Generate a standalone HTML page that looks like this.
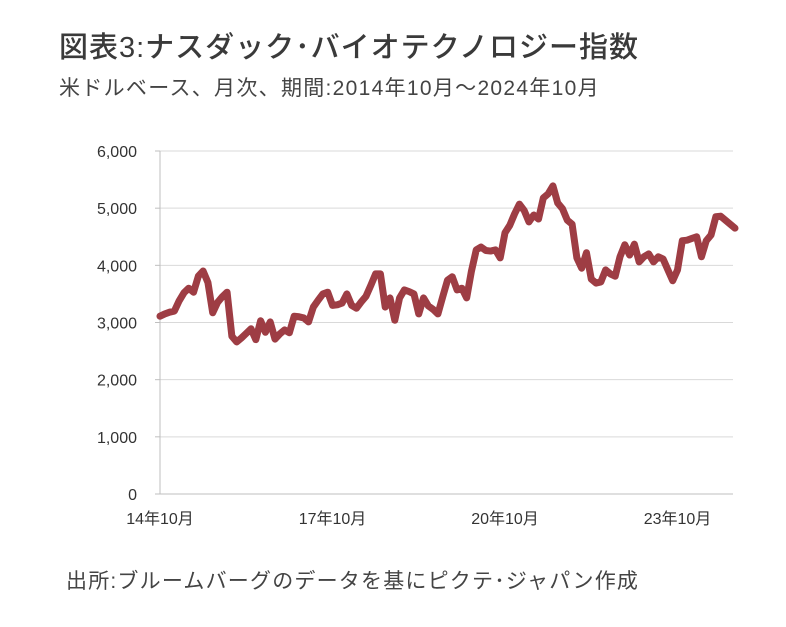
<!DOCTYPE html>
<html><head><meta charset="utf-8"><style>
body{margin:0;background:#fff;width:786px;height:627px;overflow:hidden;font-family:"Liberation Sans","Noto Sans CJK JP",sans-serif;color:#3a3a3a}
.t{position:absolute;left:59px;top:24px;font-size:29px;font-weight:500;letter-spacing:1px;white-space:nowrap}
.s{position:absolute;left:59px;top:72px;font-size:21px;letter-spacing:1.3px;white-space:nowrap;color:#444}
.f{position:absolute;left:66px;top:565px;font-size:21px;letter-spacing:1.2px;white-space:nowrap;color:#444}
svg{position:absolute;left:0;top:0}
</style></head><body>
<div class="t">図表3:ナスダック･バイオテクノロジー指数</div>
<div class="s">米ドルベース、月次、期間:2014年10月～2024年10月</div>
<svg id="c" width="786" height="627"></svg>
<div class="f">出所:ブルームバーグのデータを基にピクテ･ジャパン作成</div>
<script>
const values=[3110,3150,3180,3200,3380,3520,3600,3530,3810,3900,3700,3170,3350,3450,3530,2760,2660,2730,2810,2890,2700,3030,2830,3010,2710,2800,2870,2820,3110,3100,3080,3010,3270,3390,3500,3530,3300,3310,3340,3500,3300,3250,3360,3460,3650,3850,3850,3270,3430,3040,3430,3570,3540,3500,3150,3430,3290,3230,3150,3450,3740,3800,3570,3600,3430,3900,4270,4320,4260,4250,4270,4130,4570,4700,4900,5070,4960,4760,4880,4810,5180,5250,5390,5090,4990,4790,4720,4130,3950,4220,3760,3690,3710,3920,3850,3810,4150,4360,4180,4370,4060,4150,4200,4060,4150,4110,3920,3730,3920,4430,4440,4470,4500,4150,4430,4530,4850,4860,4790,4720,4650];
const yTicks=[0,1000,2000,3000,4000,5000,6000];
const yTickLabels=["0","1,000","2,000","3,000","4,000","5,000","6,000"];
const xTickIdx=[0,36,72,108];
const xTickLabels=["14年10月","17年10月","20年10月","23年10月"];
const X0=160,X1=735,Y0=494,Y1=151;
const x=i=>X0+(X1-X0)*i/(values.length-1);
const y=v=>Y0-(Y0-Y1)*v/6000;
const svg=document.getElementById('c');const NS='http://www.w3.org/2000/svg';
function mk(t,a){const e=document.createElementNS(NS,t);for(const k in a)e.setAttribute(k,a[k]);svg.appendChild(e);return e;}
yTicks.forEach((v,i)=>{
 if(v>0){const g=mk('line',{x1:X0,x2:733,y1:y(v),y2:y(v),stroke:'#d9d9d9','stroke-width':1});
 
 }
 const tk=mk('line',{x1:X0-5,x2:X0,y1:y(v),y2:y(v),stroke:'#bfbfbf','stroke-width':1});
 
 
 const t=mk('text',{x:137,y:y(v)+6,'text-anchor':'end','font-size':16,fill:'#333'});
 t.textContent=yTickLabels[i];
 
 
});
const ax=mk('line',{x1:X0,x2:X0,y1:Y1,y2:Y0,stroke:'#bfbfbf','stroke-width':1});


const bx=mk('line',{x1:X0,x2:733,y1:Y0,y2:Y0,stroke:'#bfbfbf','stroke-width':1});


xTickIdx.forEach((idx,i)=>{
 const t=mk('text',{x:x(idx),y:524,'text-anchor':'middle','font-size':16,fill:'#333'});
 t.textContent=xTickLabels[i];
 
 
});
const p=mk('polyline',{points:values.map((v,i)=>x(i)+','+y(v)).join(' '),fill:'none',stroke:'#9e3d44','stroke-width':7,'stroke-linejoin':'round','stroke-linecap':'round'});


</script>
</body></html>
